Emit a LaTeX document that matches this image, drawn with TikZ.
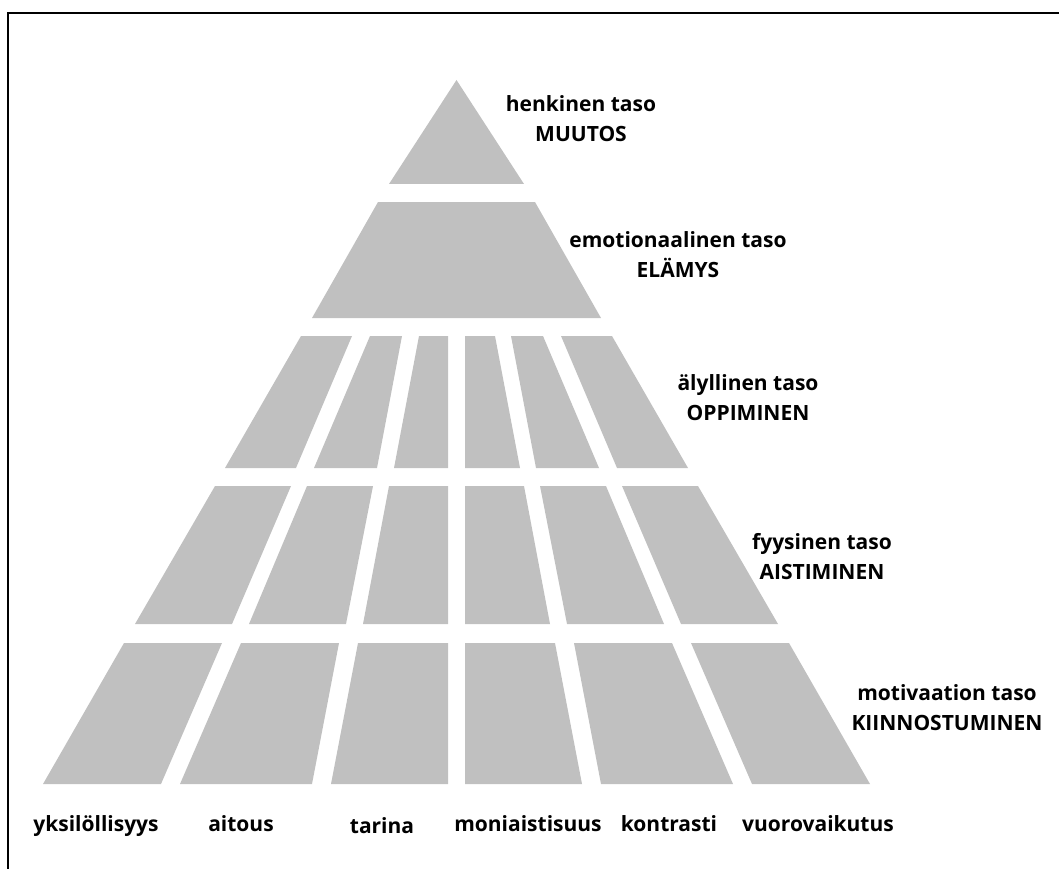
\documentclass[tikz,border=0pt]{standalone}
\usepackage{fontspec}
\setmainfont{Open Sans}
\definecolor{pg}{RGB}{192,192,192}
\newcommand\trapz[6]{\fill[pg] (#1,-#5) -- (#2,-#5) -- (#4,-#6) -- (#3,-#6) -- cycle;}
\tikzset{
  lbl/.style={anchor=base, inner sep=0pt, font=\fontsize{21}{26}\selectfont\bfseries},
  frame/.style={line width=2pt, black}
}
\begin{document}
\begin{tikzpicture}[x=1pt,y=1pt]
\useasboundingbox (0,0) rectangle (1059,-869);
\draw[frame] (1059,-13) -- (8,-13) -- (8,-869);
% top triangle
\fill[pg] (456.5,-80) -- (524,-184) -- (389,-184) -- cycle;
% level 2
\trapz{378}{535}{312}{601}{202}{318}
% level 3
\trapz{301}{352}{225}{296}{336}{468}
\trapz{370}{402}{314}{377}{336}{468}
\trapz{419}{448}{394}{448}{336}{468}
\trapz{465}{495}{465}{520}{336}{468}
\trapz{511}{543}{536}{599}{336}{468}
\trapz{561}{612}{617}{688}{336}{468}
% level 4
\trapz{215}{291}{135}{232}{486}{624}
\trapz{307}{373}{249}{346}{486}{624}
\trapz{389}{448}{363}{448}{486}{624}
\trapz{465}{524}{465}{550}{486}{624}
\trapz{540}{606}{567}{664}{486}{624}
\trapz{622}{698}{681}{778}{486}{624}
% level 5
\trapz{124}{222}{43}{161}{643}{784}
\trapz{241}{339}{180}{312}{643}{784}
\trapz{358}{448}{331}{448}{643}{784}
\trapz{465}{555}{465}{582}{643}{784}
\trapz{574}{672}{601}{733}{643}{784}
\trapz{691}{789}{752}{870}{643}{784}
% level labels
\node[lbl] (h1) at (581,-112) {henkinen taso};
\node[lbl] (h2) at (581,-142) {MUUTOS};
\node[lbl] (e1) at (678,-247) {emotionaalinen taso};
\node[lbl] (e2) at (678,-277) {ELÄMYS};
\node[lbl] (a1) at (748,-390) {älyllinen taso};
\node[lbl] (a2) at (748,-420) {OPPIMINEN};
\node[lbl] (f1) at (822,-549) {fyysinen taso};
\node[lbl] (f2) at (822,-579) {AISTIMINEN};
\node[lbl] (m1) at (947,-700) {motivaation taso};
\node[lbl] (m2) at (947,-730) {KIINNOSTUMINEN};
% bottom labels
\node[lbl] (b1) at (96,-831) {yksilöllisyys};
\node[lbl] (b2) at (241,-831) {aitous};
\node[lbl] (b3) at (382,-833) {tarina};
\node[lbl] (b4) at (528,-831) {moniaistisuus};
\node[lbl] (b5) at (669,-831) {kontrasti};
\node[lbl] (b6) at (818,-831) {vuorovaikutus};
\end{tikzpicture}
\end{document}
